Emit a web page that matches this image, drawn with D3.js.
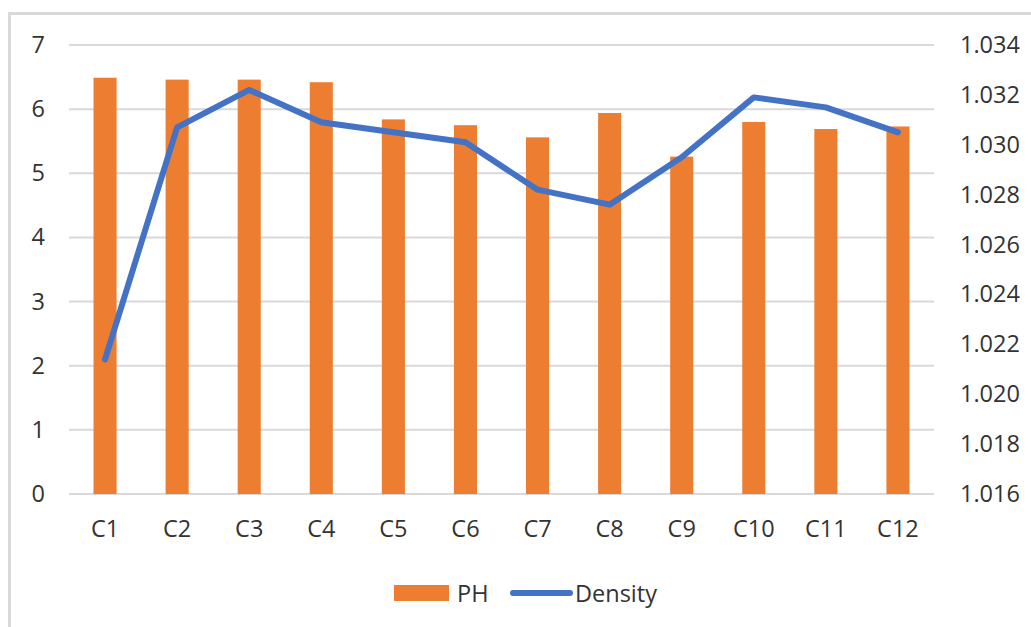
<!DOCTYPE html>
<html>
<head>
<meta charset="utf-8">
<script src="https://cdn.jsdelivr.net/npm/d3@7"></script>
<style>
  html, body { margin: 0; padding: 0; background: #fff; }
  svg { display: block; }
  text { font-family: "Open Sans", "Noto Sans", sans-serif; fill: #333333; }
</style>
</head>
<body>
<svg id="chart" width="1031" height="627"></svg>
<script>
const categories = ["C1","C2","C3","C4","C5","C6","C7","C8","C9","C10","C11","C12"];
const phValues = [6.49, 6.46, 6.46, 6.42, 5.84, 5.75, 5.56, 5.94, 5.26, 5.80, 5.69, 5.73];
const densityValues = [1.0214, 1.0307, 1.0322, 1.0309, 1.0305, 1.0301, 1.0282, 1.0276, 1.0295, 1.0319, 1.0315, 1.0305];
const leftTicks = [0, 1, 2, 3, 4, 5, 6, 7];
const rightTicks = [1.016, 1.018, 1.020, 1.022, 1.024, 1.026, 1.028, 1.030, 1.032, 1.034];
const seriesNames = ["PH", "Density"];

const svg = d3.select("#chart");
const W = 1031, H = 627;
const plot = { left: 69, right: 934, top: 45, bottom: 494 };
const FS = "23.5px";

// chart border
svg.append("rect")
  .attr("x", 9.5).attr("y", 13.5)
  .attr("width", W + 20).attr("height", H + 20)
  .attr("fill", "none").attr("stroke", "#d9d9d9").attr("stroke-width", 3);

const x = d3.scaleBand().domain(categories).range([plot.left, plot.right]).paddingInner(0.68).paddingOuter(0.34);
const xCenter = d => x(d) + x.bandwidth() / 2;
const yL = d3.scaleLinear().domain([0, 7]).range([plot.bottom, plot.top]);
const yR = d3.scaleLinear().domain([1.016, 1.034]).range([plot.bottom, plot.top]);

// gridlines
svg.append("g").selectAll("line").data(leftTicks).join("line")
  .attr("x1", plot.left).attr("x2", plot.right)
  .attr("y1", d => yL(d)).attr("y2", d => yL(d))
  .attr("stroke", "#d9d9d9").attr("stroke-width", 2);

// left axis
const axL = svg.append("g").attr("transform", `translate(${plot.left},0)`)
  .call(d3.axisLeft(yL).tickValues(leftTicks).tickFormat(d3.format("d")).tickSize(0).tickPadding(24));
axL.select(".domain").remove();
axL.selectAll("text").style("font-size", FS).style("font-family", "'Open Sans', sans-serif").attr("fill", "#333333");

// right axis
const axR = svg.append("g").attr("transform", `translate(${plot.right},0)`)
  .call(d3.axisRight(yR).tickValues(rightTicks).tickFormat(d3.format(".3f")).tickSize(0).tickPadding(26));
axR.select(".domain").remove();
axR.selectAll("text").style("font-size", FS).style("font-family", "'Open Sans', sans-serif").attr("fill", "#333333");

// bottom axis
const axB = svg.append("g").attr("transform", `translate(0,${plot.bottom})`)
  .call(d3.axisBottom(x).tickSize(0).tickPadding(26));
axB.select(".domain").remove();
axB.selectAll("text").style("font-size", FS).style("font-family", "'Open Sans', sans-serif").attr("fill", "#333333");

// bars
svg.append("g").selectAll("rect").data(categories).join("rect")
  .attr("x", d => x(d))
  .attr("width", x.bandwidth())
  .attr("y", (d, i) => yL(phValues[i]))
  .attr("height", (d, i) => yL(0) - yL(phValues[i]))
  .attr("fill", "#ED7D31");

// line
const line = d3.line().x((d, i) => xCenter(categories[i])).y(d => yR(d));
svg.append("path").datum(densityValues)
  .attr("d", line)
  .attr("fill", "none").attr("stroke", "#4472C4").attr("stroke-width", 6)
  .attr("stroke-linejoin", "round").attr("stroke-linecap", "round");

// legend
const lg = svg.append("g");
lg.append("rect").attr("x", 394).attr("y", 585).attr("width", 55).attr("height", 16).attr("fill", "#ED7D31");
lg.append("text").attr("x", 457).attr("y", 593).attr("dominant-baseline", "central")
  .style("font-size", FS).text(seriesNames[0]);
lg.append("line").attr("x1", 513).attr("x2", 570).attr("y1", 593).attr("y2", 593)
  .attr("stroke", "#4472C4").attr("stroke-width", 6).attr("stroke-linecap", "round");
lg.append("text").attr("x", 575).attr("y", 593).attr("dominant-baseline", "central")
  .style("font-size", FS).text(seriesNames[1]);
</script>
</body>
</html>
